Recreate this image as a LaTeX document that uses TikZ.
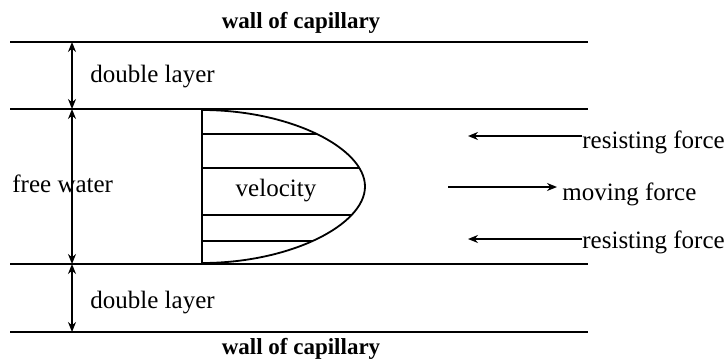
\documentclass[tikz,border=0pt]{standalone}
\usepackage{fontspec}
\setmainfont{Liberation Serif}
\usetikzlibrary{arrows.meta,positioning}

\begin{document}
\begin{tikzpicture}[x=0.5pt, y=-0.5pt,
  wall/.style={line width=1pt},
  thin/.style={line width=0.9pt},
  dim/.style={line width=0.75pt, {Stealth[length=5pt,width=4pt]}-{Stealth[length=5pt,width=4pt]}},
  force/.style={line width=0.75pt, -{Stealth[length=5pt,width=4pt]}},
  lbl/.style={font=\fontsize{12.5}{14}\selectfont, inner sep=0pt},
  ttl/.style={font=\bfseries\fontsize{11.5}{13}\selectfont, inner sep=0pt}
]
\useasboundingbox (0,0) rectangle (728,359);

% walls and layer boundaries
\coordinate (w1) at (72,42);
\coordinate (w2) at (72,109);
\coordinate (w3) at (72,264);
\coordinate (w4) at (72,332);
\draw[wall] (10,42) -- (588,42);
\draw[wall] (10,109) -- (588,109);
\draw[wall] (10,264) -- (588,264);
\draw[wall] (10,332) -- (588,332);

\node[ttl, anchor=base] (wtop) at (301,28) {wall of capillary};
\node[ttl, anchor=base] (wbot) at (301,354) {wall of capillary};

% thickness arrows
\draw[dim] (w1) -- (w2);
\draw[dim] (w2) -- (w3);
\draw[dim] (w3) -- (w4);
\node[lbl, anchor=base west] (dl1) at (90,82) {double layer};
\node[lbl, anchor=base west] (dl2) at (90,308) {double layer};
\node[lbl, anchor=base west] (fw) at (12,192) {free water};

% velocity profile
\draw[thin] (202,110) -- (202,263);
\draw[thin] (202,110) .. controls (290,110) and (365,148) .. (365,186.5)
  .. controls (365,225) and (290,263) .. (202,263);
\begin{scope}
  \clip (202,110) .. controls (290,110) and (365,148) .. (365,186.5)
    .. controls (365,225) and (290,263) .. (202,263) -- cycle;
  \foreach \yy in {134,168,215,241}
    \draw[thin] (202,\yy) -- (400,\yy);
\end{scope}
\node[lbl, anchor=base] (vel) at (276,196) {velocity};

% forces
\node[lbl, anchor=base west] (rf1) at (582,148) {resisting force};
\node[lbl, anchor=base west] (mf) at (562,200) {moving force};
\node[lbl, anchor=base west] (rf2) at (582,248) {resisting force};
\coordinate (rs1) at (582,136);
\coordinate (re1) at (468,136);
\coordinate (ms) at (448,187);
\coordinate (me) at (557,187);
\coordinate (rs2) at (582,239);
\coordinate (re2) at (468,239);
\draw[force] (rs1) -- (re1);
\draw[force] (ms) -- (me);
\draw[force] (rs2) -- (re2);

\end{tikzpicture}
\end{document}
